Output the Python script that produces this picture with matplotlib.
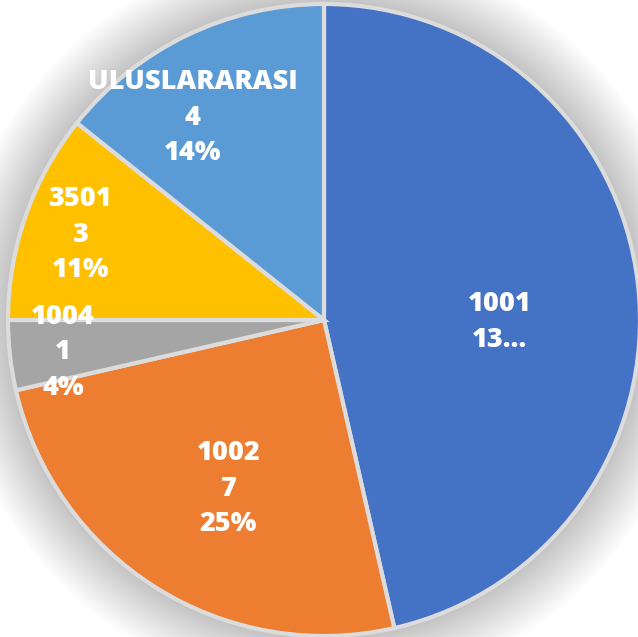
import matplotlib
matplotlib.use("Agg")
import matplotlib.pyplot as plt
from matplotlib.patches import Circle
import numpy as np

categories = ["1001", "1002", "1004", "3501", "ULUSLARARASI"]
values = [13, 7, 1, 3, 4]
value_labels = ["13…", "7", "1", "3", "4"]
pct_labels = [None, "25%", "4%", "11%", "14%"]
colors = ["#4472C4", "#ED7D31", "#A5A5A5", "#FFC000", "#5B9BD5"]
label_dist = [0.556, 0.613, 0.832, 0.817, 0.764]
label_angle_shift = [-7.1, 2.6, 0.6, 0.0, 7.3]

W, H = 638, 637
fig = plt.figure(figsize=(W / 100, H / 100), dpi=100)
ax = fig.add_axes([0, 0, 1, 1])
cx, cy, R = 324, 320, 316

# soft glow around the pie
for k in range(30):
    r = 1.0 + 0.006 * (k + 1)
    ax.add_patch(Circle((0, 0), r, facecolor="black", edgecolor="none",
                        alpha=0.006, zorder=0))

wedges, _ = ax.pie(values, colors=colors, startangle=90, counterclock=False,
                   radius=1.0, center=(0, 0),
                   wedgeprops=dict(edgecolor="#DCDCDC", linewidth=3.0, zorder=2))
ax.set_xlim(-cx / R, (W - cx) / R)
ax.set_ylim(-(H - cy) / R, cy / R)
ax.set_aspect("auto")
ax.axis("off")

for i, w in enumerate(wedges):
    mid = np.deg2rad((w.theta1 + w.theta2) / 2 + label_angle_shift[i])
    x = label_dist[i] * np.cos(mid)
    y = label_dist[i] * np.sin(mid)
    lines = [categories[i], value_labels[i]]
    if pct_labels[i]:
        lines.append(pct_labels[i])
    ax.text(x, y, "\n".join(lines), ha="center", va="center", color="white",
            fontsize=19.5, fontweight="heavy", family=["Open Sans", "DejaVu Sans"],
            linespacing=1.48, zorder=5)

fig.savefig("out.png", dpi=100)
